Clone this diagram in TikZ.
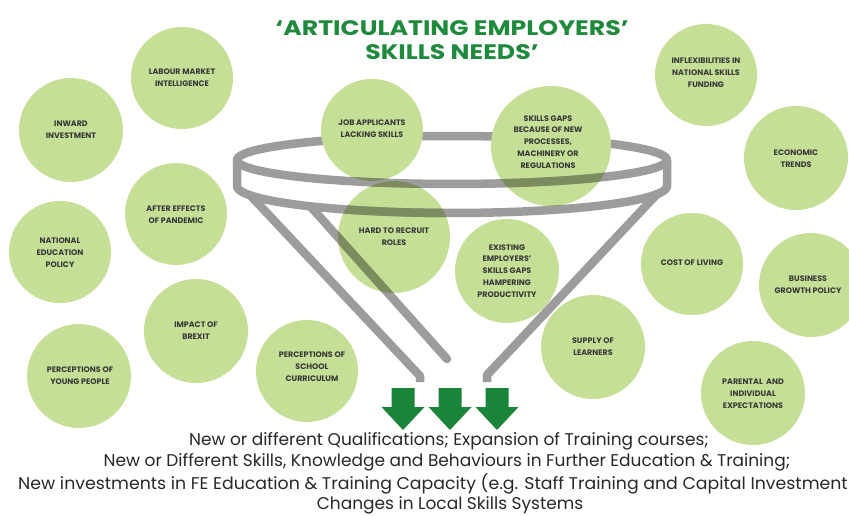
\documentclass[tikz,border=0pt]{standalone}
\usepackage{fontspec}
\setmainfont{Poppins}
\definecolor{circ}{RGB}{197,224,150}
\definecolor{fun}{RGB}{156,156,156}
\definecolor{olive}{RGB}{124,140,94}
\definecolor{dgreen}{RGB}{26,132,56}
\definecolor{tgreen}{RGB}{30,138,60}
\definecolor{txt}{RGB}{55,55,55}
\definecolor{btxt}{RGB}{40,40,40}
\begin{document}
\begin{tikzpicture}[x=1pt,y=-1pt,
  bub/.style={circle, fill=circ, inner sep=0pt, minimum size=#1pt},
  lbl/.style={font=\fontsize{7.95}{11.9}\selectfont\bfseries, text=txt, align=center, inner sep=0pt},
  funline/.style={draw=#1, line width=8.5pt, line join=round},
  funline/.default=fun,
  arr/.style={fill=dgreen},
  btext/.style={font=\fontsize{17}{20}\selectfont, text=btxt, inner sep=0pt}]
\useasboundingbox (0,0) rectangle (849,516);
\fill[white] (0,0) rectangle (849,516);
% back rim of the funnel (hidden by the bubbles)
\draw[funline, line cap=round] plot[domain=0:180, samples=80] ({452+215*cos(\x)},{160-24*sin(\x)});
% bubbles
\node[bub=102] (c1) at (182,78) {};
\node[bub=104] (c2) at (71,130) {};
\node[bub=102] (c3) at (176,214) {};
\node[bub=102] (c4) at (60,252) {};
\node[bub=104] (c5) at (196,331) {};
\node[bub=104] (c6) at (79,376) {};
\node[bub=102] (c7) at (307,371) {};
\node[bub=102] (c8) at (372,130) {};
\node[bub=120] (c9) at (551,146) {};
\node[bub=112] (c10) at (394,237) {};
\node[bub=104] (c11) at (507,271) {};
\node[bub=104] (c12) at (593,347) {};
\node[bub=102] (c13) at (692,264) {};
\node[bub=104] (c14) at (811,285) {};
\node[bub=104] (c15) at (753,393) {};
\node[bub=102] (c16) at (706,75) {};
\node[bub=104] (c17) at (796,158) {};
% front of the funnel, drawn twice: grey, then darker where it crosses a bubble
\foreach \col/\clipit in {fun/0,olive/1}{
\begin{scope}
\ifnum\clipit=1
  \clip (372,130) circle[radius=51] (551,146) circle[radius=60] (394,237) circle[radius=56]
        (507,271) circle[radius=52] (593,347) circle[radius=52] (307,371) circle[radius=51];
\fi
\draw[funline=\col, line cap=round] plot[domain=180:360, samples=80] ({452+215*cos(\x)},{160-24*sin(\x)});
\draw[funline=\col] (237,160) -- (237,186)
  -- plot[domain=180:360, samples=80] ({452+215*cos(\x)},{186-27*sin(\x)})
  -- (667,160);
\draw[funline=\col, line cap=butt] (250,195) -- (420,376) -- (420,382);
\draw[funline=\col, line cap=round] (311,207) -- (447,359);
\draw[funline=\col, line cap=butt] (658,193) -- (487,375) -- (487,382);
\end{scope}
}
% labels
\node[lbl] (t1) at (182,78) {LABOUR MARKET\\INTELLIGENCE};
\node[lbl] (t2) at (71,130) {INWARD\\INVESTMENT};
\node[lbl] (t3) at (176,215) {AFTER EFFECTS\\OF PANDEMIC};
\node[lbl] (t4) at (60,253) {NATIONAL\\EDUCATION\\POLICY};
\node[lbl] (t5) at (196,331) {IMPACT OF\\BREXIT};
\node[lbl] (t6) at (80,376) {PERCEPTIONS OF\\YOUNG PEOPLE};
\node[lbl] (t7) at (312,367) {PERCEPTIONS OF\\SCHOOL\\CURRICULUM};
\node[lbl] (t8) at (372,129) {JOB APPLICANTS\\LACKING SKILLS};
\node[lbl] (t9) at (548,142) {SKILLS GAPS\\BECAUSE OF NEW\\PROCESSES,\\MACHINERY OR\\REGULATIONS};
\node[lbl] (t10) at (394,237) {HARD TO RECRUIT\\ROLES};
\node[lbl] (t11) at (507,271) {EXISTING\\EMPLOYERS’\\SKILLS GAPS\\HAMPERING\\PRODUCTIVITY};
\node[lbl] (t12) at (593,347) {SUPPLY OF\\LEARNERS};
\node[lbl] (t13) at (692,263) {COST OF LIVING};
\node[lbl] (t14) at (808,285) {BUSINESS\\GROWTH POLICY};
\node[lbl] (t15) at (753,394) {PARENTAL\ \ AND\\INDIVIDUAL\\EXPECTATIONS};
\node[lbl] (t16) at (706,73) {INFLEXIBILITIES IN\\NATIONAL SKILLS\\FUNDING};
\node[lbl] (t17) at (796,159) {ECONOMIC\\TRENDS};
% title
\node[font=\fontsize{21}{24}\selectfont\bfseries, text=tgreen, align=center, inner sep=0pt] (title) at (452,40)
  {\scalebox{1.2}[1]{‘ARTICULATING EMPLOYERS’}\\\scalebox{1.2}[1]{SKILLS NEEDS’}};
% arrows
\foreach \c [count=\i] in {403,450,497}{
  \fill[arr] (\c-11.5,388) -- (\c+11.5,388) -- (\c+11.5,407) -- (\c+21.5,407)
    -- (\c,430) -- (\c-21.5,407) -- (\c-11.5,407) -- cycle;
}
% bottom text
\node[btext] (b1) at (449,441) {New or different Qualifications; Expansion of Training courses;};
\node[btext] (b2) at (447,462.5) {New or Different Skills, Knowledge and Behaviours in Further Education \& Training;};
\node[btext, anchor=west] (b3) at (18,484) {\scalebox{1.02}[1]{New investments in FE Education \& Training Capacity (e.g. Staff Training and Capital Investment}};
\node[btext] (b4) at (450,505) {Changes in Local Skills Systems};
\end{tikzpicture}
\end{document}
